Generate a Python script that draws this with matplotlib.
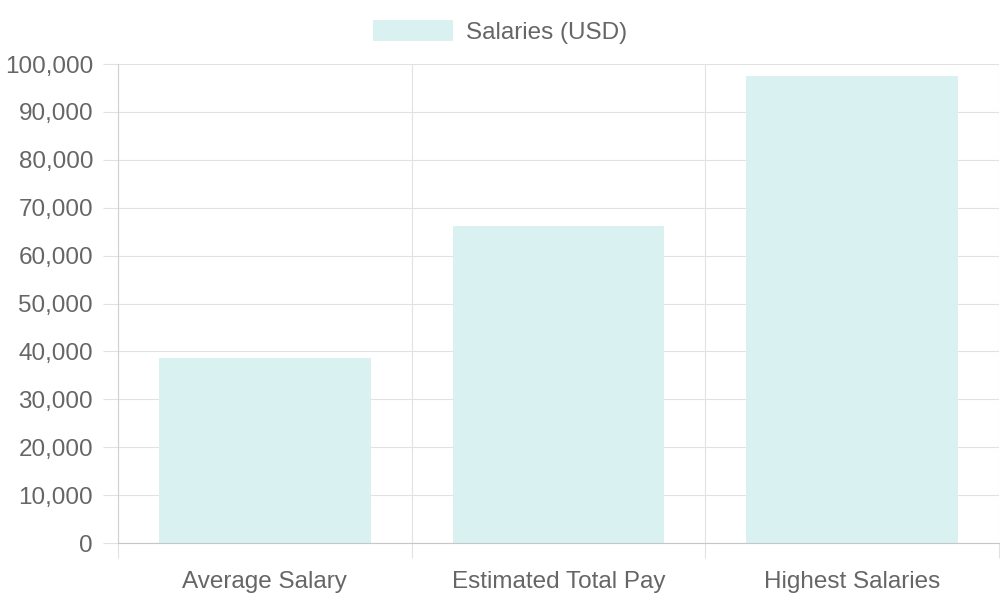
import matplotlib.pyplot as plt
from matplotlib.patches import Patch
from matplotlib.ticker import FuncFormatter

categories = ['Average Salary', 'Estimated Total Pay', 'Highest Salaries']
salaries = [38700, 66100, 97500]
series_name = 'Salaries (USD)'

bar_color = '#d9f1f1'
grid_color = '#e2e2e2'
text_color = '#666666'

plt.rcParams['font.family'] = ['Liberation Sans', 'DejaVu Sans']

fig = plt.figure(figsize=(10, 6), dpi=100)
ax = fig.add_axes([0.118, 0.095, 0.881, 0.7983])

x = list(range(len(categories)))
ax.bar(x, salaries, width=0.72, color=bar_color, zorder=2)

ax.set_xlim(-0.5, len(categories) - 0.5)
ax.set_ylim(0, 100000)
ax.set_yticks(range(0, 100001, 10000))
ax.yaxis.set_major_formatter(FuncFormatter(lambda v, p: f'{int(v):,}'))

ax.set_xticks(x)
ax.set_xticklabels(categories)
ax.set_xticks([i - 0.5 for i in range(len(categories) + 1)], minor=True)

ax.grid(axis='y', which='major', color=grid_color, linewidth=0.8, zorder=0)
ax.grid(axis='x', which='minor', color=grid_color, linewidth=0.8, zorder=0)

ax.tick_params(axis='y', length=11, width=0.8, color=grid_color, pad=7,
               labelsize=17.5, labelcolor=text_color)
ax.tick_params(axis='x', which='major', length=0, pad=20.5,
               labelsize=17.5, labelcolor=text_color)
ax.tick_params(axis='x', which='minor', length=11, width=0.8, color=grid_color)

for side in ['top', 'right']:
    ax.spines[side].set_visible(False)
ax.spines['left'].set_color('#d0d0d0')
ax.spines['bottom'].set_color('#c6c6c6')
ax.spines['left'].set_linewidth(0.8)
ax.spines['bottom'].set_linewidth(0.8)

handle = Patch(facecolor=bar_color, edgecolor='none')
fig.legend([handle], [series_name], loc='center', bbox_to_anchor=(0.5, 0.947),
           frameon=False, fontsize=17.5, labelcolor=text_color,
           handlelength=3.3, handleheight=0.95, handletextpad=0.53)

fig.savefig('out.png', dpi=100)
